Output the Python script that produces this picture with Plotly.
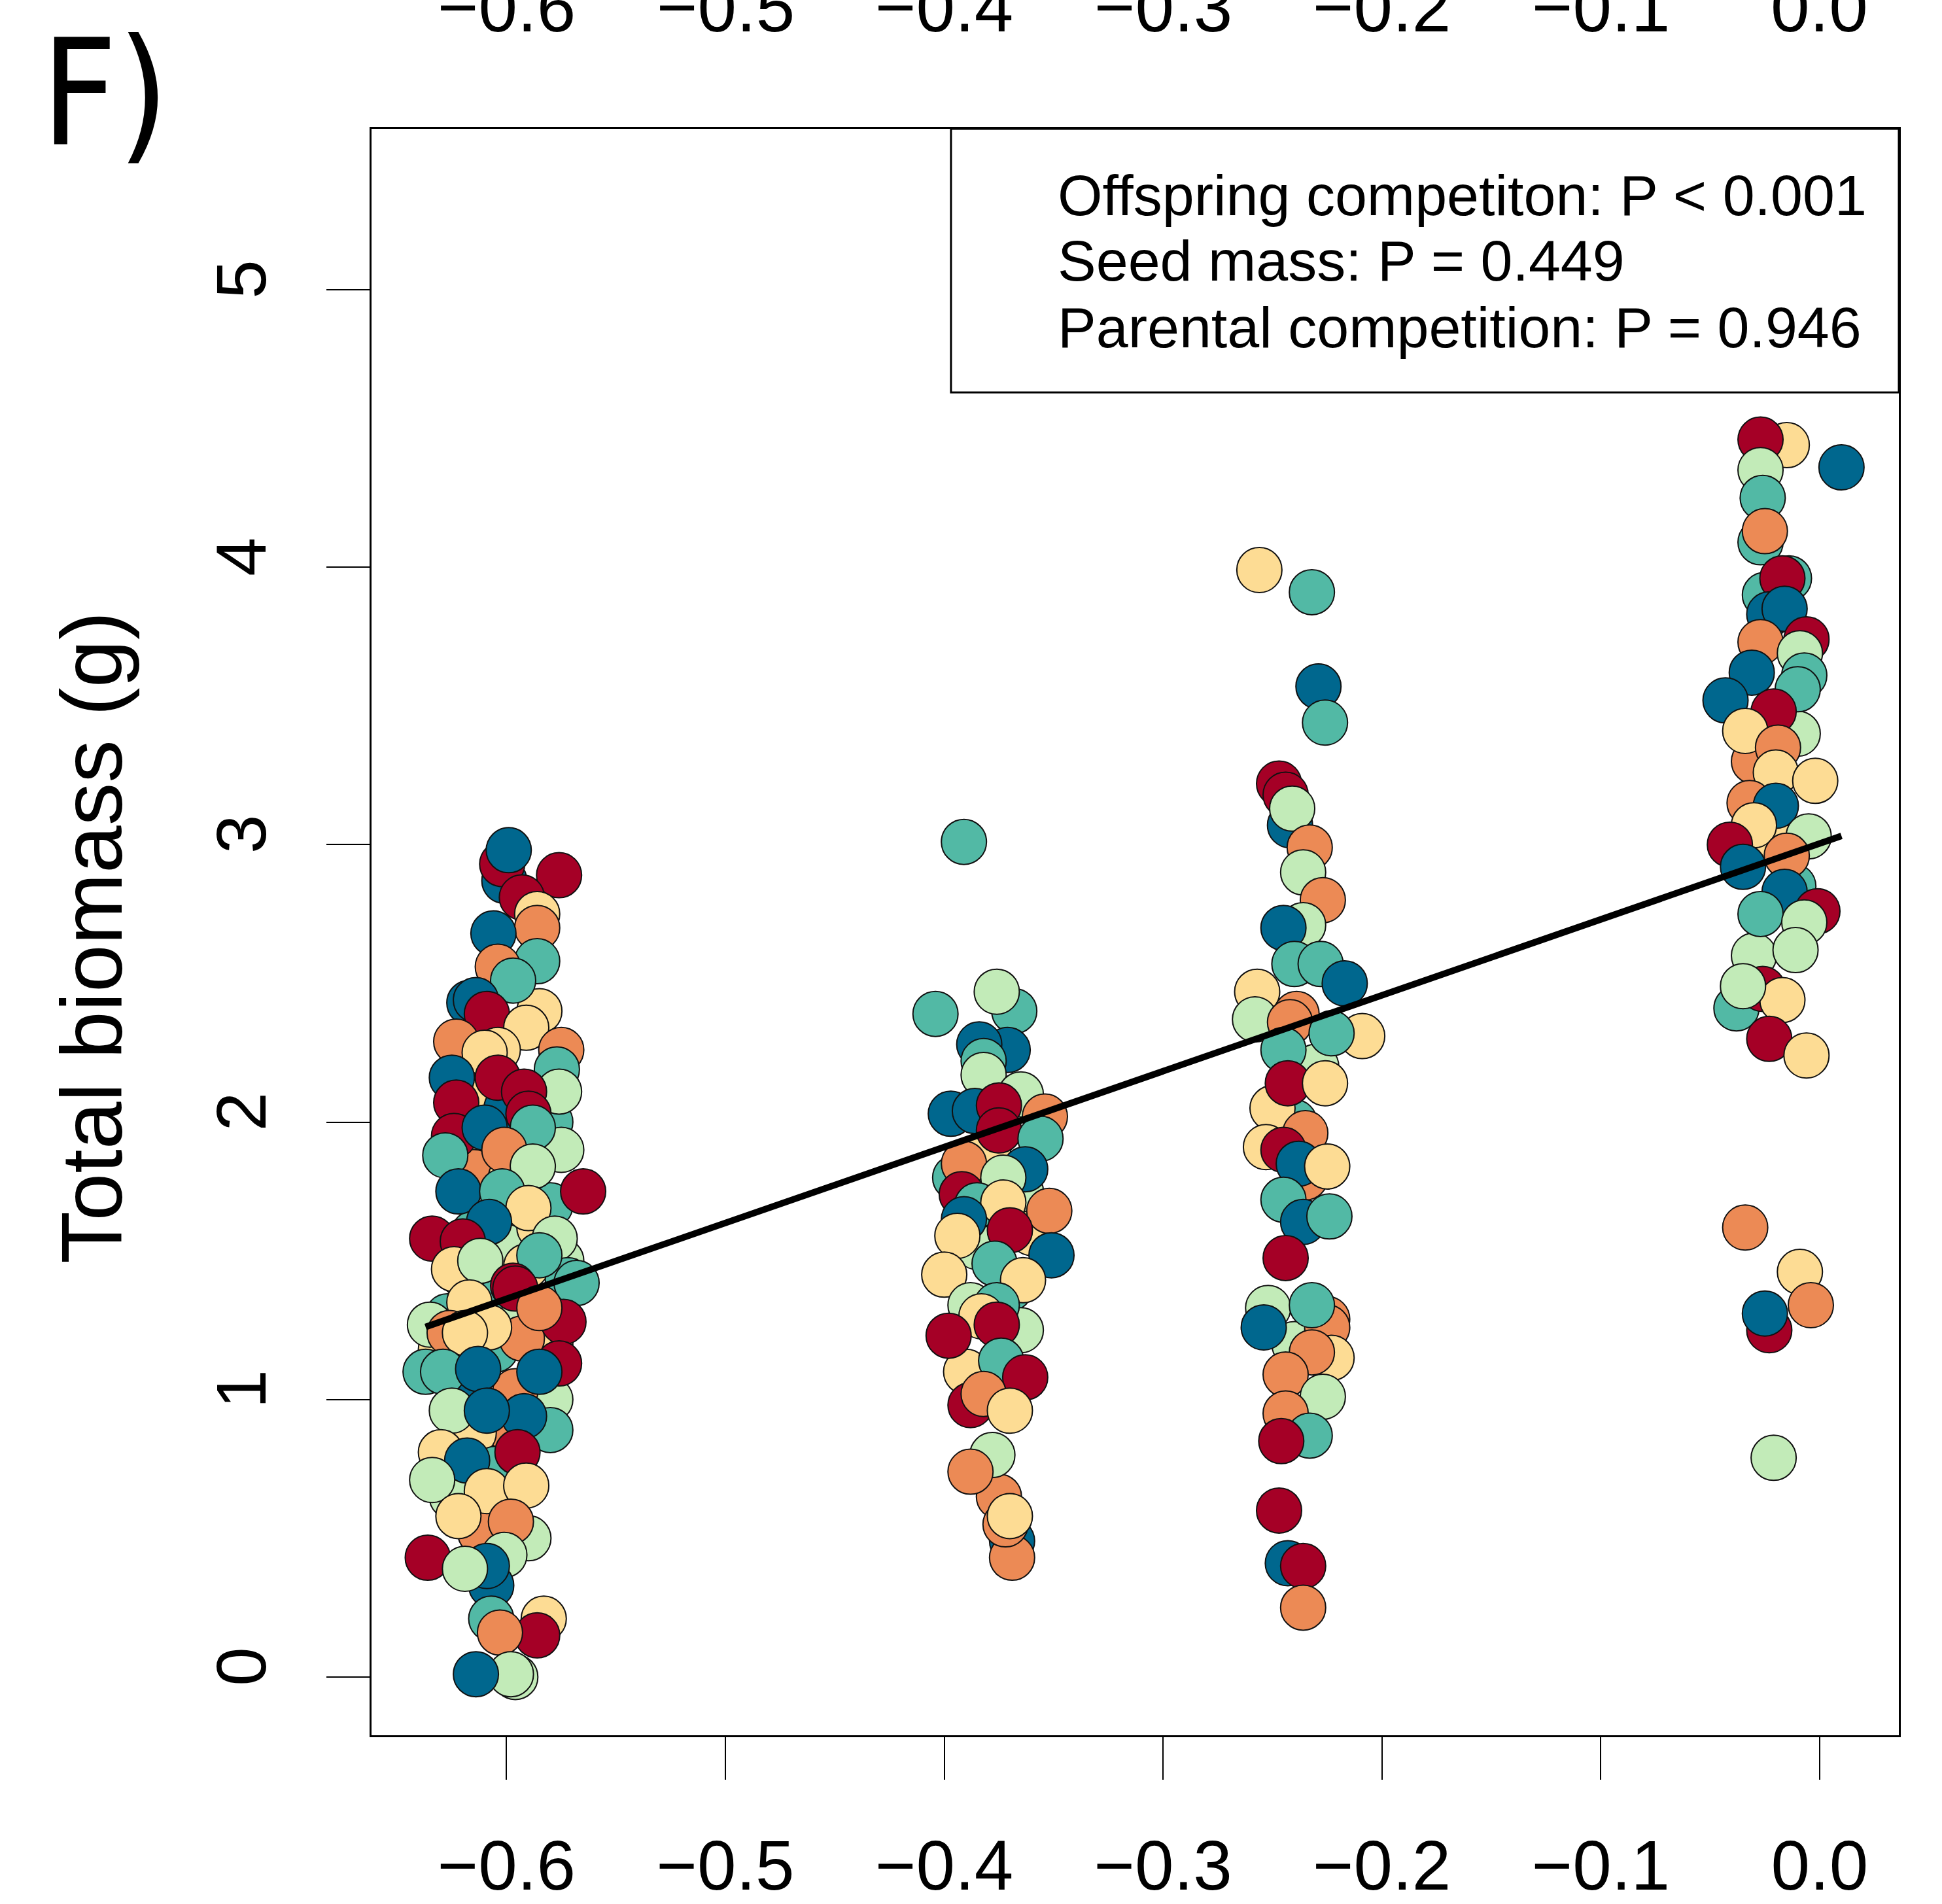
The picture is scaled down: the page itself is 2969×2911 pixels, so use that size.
import plotly.graph_objects as go
import numpy as np

# Colour of each group (0 dark red, 1 orange, 2 yellow, 3 light green, 4 teal, 5 dark blue)
palette = ["#A50026", "#EC8A55", "#FDDC94", "#C2EBB8", "#52B9A5", "#00678E"]

# (offspring competition, total biomass g, group)
# points lying underneath the crowded columns (drawn first)
under_points = [
    (-0.615, 1.60, 4), (-0.600, 1.55, 3), (-0.585, 1.62, 2), (-0.580, 1.70, 4), (-0.615, 1.82, 1),
    (-0.598, 1.80, 2), (-0.580, 2.00, 4), (-0.615, 2.10, 2), (-0.600, 2.05, 5), (-0.620, 2.22, 0),
    (-0.585, 2.40, 2), (-0.575, 1.90, 3), (-0.627, 1.30, 4), (-0.600, 1.30, 3), (-0.580, 1.20, 2),
    (-0.605, 1.18, 4), (-0.620, 1.05, 5), (-0.600, 0.90, 1), (-0.580, 1.00, 3), (-0.615, 0.88, 2),
    (-0.625, 0.65, 3), (-0.605, 0.75, 4), (-0.590, 0.50, 3), (-0.612, 0.52, 1), (-0.630, 1.18, 2),
    (-0.575, 1.50, 3), (-0.593, 1.22, 1), (-0.610, 1.38, 4),
    (-0.380, 1.90, 2), (-0.365, 1.75, 3), (-0.395, 1.80, 4), (-0.360, 1.60, 2), (-0.385, 1.55, 3),
    (-0.370, 1.40, 4), (-0.390, 1.10, 2), (-0.365, 1.25, 3), (-0.380, 2.10, 4), (-0.375, 0.65, 1),
    (-0.240, 2.00, 4), (-0.230, 2.20, 3), (-0.250, 2.05, 2), (-0.235, 1.80, 1), (-0.240, 1.20, 3),
    (-0.020, 3.00, 2), (-0.030, 3.30, 1), (-0.010, 3.40, 3), (-0.025, 3.90, 4), (-0.030, 2.60, 3),
    (-0.012, 2.85, 4),
]

cluster_06 = [
    (-0.601, 2.87, 5), (-0.602, 2.93, 0), (-0.599, 2.98, 5), (-0.576, 2.89, 0), (-0.593, 2.81, 0),
    (-0.586, 2.75, 2), (-0.586, 2.70, 1), (-0.606, 2.68, 5), (-0.586, 2.58, 4), (-0.604, 2.56, 1),
    (-0.597, 2.51, 4), (-0.617, 2.43, 5), (-0.614, 2.44, 5), (-0.609, 2.39, 0), (-0.591, 2.34, 2),
    (-0.623, 2.29, 1), (-0.604, 2.26, 2), (-0.610, 2.25, 2), (-0.575, 2.26, 1), (-0.577, 2.19, 4),
    (-0.576, 2.11, 3), (-0.625, 2.16, 5), (-0.604, 2.16, 0), (-0.592, 2.11, 0), (-0.590, 2.03, 0),
    (-0.623, 2.07, 0), (-0.624, 1.95, 0), (-0.610, 1.98, 5), (-0.588, 1.98, 4), (-0.628, 1.88, 4),
    (-0.601, 1.90, 1), (-0.588, 1.84, 3), (-0.565, 1.75, 0), (-0.622, 1.75, 5), (-0.602, 1.75, 4),
    (-0.590, 1.69, 2), (-0.608, 1.64, 5), (-0.578, 1.58, 3), (-0.634, 1.58, 0), (-0.620, 1.57, 0),
    (-0.620, 1.45, 4), (-0.624, 1.47, 2), (-0.591, 1.48, 2), (-0.572, 1.43, 4), (-0.612, 1.50, 3),
    (-0.585, 1.52, 4), (-0.597, 1.41, 0), (-0.568, 1.42, 4), (-0.617, 1.35, 2), (-0.596, 1.40, 0),
    (-0.574, 1.28, 0), (-0.585, 1.33, 1), (-0.635, 1.27, 3), (-0.626, 1.24, 1), (-0.608, 1.26, 2),
    (-0.619, 1.24, 2), (-0.637, 1.10, 4), (-0.629, 1.10, 4), (-0.596, 1.03, 1), (-0.613, 1.11, 5),
    (-0.576, 1.13, 0), (-0.585, 1.10, 5), (-0.625, 0.96, 3), (-0.580, 0.89, 4), (-0.592, 0.94, 5),
    (-0.609, 0.96, 5), (-0.630, 0.81, 2), (-0.595, 0.81, 0), (-0.618, 0.78, 5), (-0.634, 0.71, 3),
    (-0.609, 0.67, 2), (-0.591, 0.69, 2), (-0.598, 0.56, 1), (-0.622, 0.58, 2), (-0.601, 0.44, 3),
    (-0.636, 0.43, 0), (-0.607, 0.33, 5), (-0.609, 0.40, 5), (-0.619, 0.39, 3), (-0.607, 0.21, 4),
    (-0.583, 0.21, 2), (-0.586, 0.15, 0), (-0.603, 0.16, 1), (-0.596, 0.00, 3), (-0.598, 0.01, 3),
    (-0.614, 0.01, 5),
]

cluster_04 = [
    (-0.391, 3.01, 4), (-0.404, 2.39, 4), (-0.368, 2.40, 4), (-0.376, 2.47, 3), (-0.371, 2.26, 5),
    (-0.384, 2.28, 5), (-0.382, 2.22, 4), (-0.382, 2.17, 3), (-0.365, 2.10, 3), (-0.397, 2.03, 5),
    (-0.386, 2.04, 5), (-0.354, 2.02, 1), (-0.375, 2.06, 0), (-0.375, 1.97, 0), (-0.356, 1.94, 4),
    (-0.391, 1.85, 1), (-0.363, 1.83, 5), (-0.373, 1.80, 3), (-0.392, 1.74, 0), (-0.385, 1.70, 4),
    (-0.373, 1.71, 2), (-0.352, 1.68, 1), (-0.391, 1.65, 5), (-0.370, 1.61, 0), (-0.394, 1.59, 2),
    (-0.351, 1.52, 5), (-0.400, 1.45, 2), (-0.377, 1.49, 4), (-0.364, 1.43, 2), (-0.388, 1.34, 3),
    (-0.376, 1.34, 4), (-0.383, 1.30, 2), (-0.398, 1.23, 0), (-0.376, 1.27, 0), (-0.374, 1.14, 4),
    (-0.363, 1.08, 0), (-0.388, 0.98, 0), (-0.382, 1.02, 1), (-0.370, 0.96, 2), (-0.378, 0.80, 3),
    (-0.388, 0.74, 1), (-0.369, 0.49, 5), (-0.369, 0.43, 1), (-0.372, 0.55, 1), (-0.370, 0.58, 2),
]

cluster_02 = [
    (-0.256, 3.99, 2), (-0.232, 3.91, 4), (-0.229, 3.57, 5), (-0.226, 3.44, 4), (-0.247, 3.22, 0),
    (-0.244, 3.18, 0), (-0.242, 3.07, 5), (-0.241, 3.13, 3), (-0.233, 2.99, 1), (-0.236, 2.90, 3),
    (-0.227, 2.80, 1), (-0.236, 2.71, 3), (-0.245, 2.70, 5), (-0.240, 2.57, 4), (-0.228, 2.57, 4),
    (-0.217, 2.50, 5), (-0.257, 2.47, 2), (-0.258, 2.37, 3), (-0.239, 2.39, 1), (-0.242, 2.36, 1),
    (-0.209, 2.31, 2), (-0.223, 2.32, 4), (-0.245, 2.26, 4), (-0.243, 2.14, 0), (-0.226, 2.14, 2),
    (-0.253, 1.91, 2), (-0.235, 1.96, 1), (-0.245, 1.90, 0), (-0.238, 1.85, 5), (-0.225, 1.84, 2),
    (-0.245, 1.72, 4), (-0.236, 1.64, 5), (-0.224, 1.66, 4), (-0.244, 1.51, 0), (-0.252, 1.33, 3),
    (-0.254, 1.26, 5), (-0.225, 1.29, 1), (-0.225, 1.26, 1), (-0.232, 1.34, 4), (-0.223, 1.15, 2),
    (-0.232, 1.17, 1), (-0.244, 1.09, 1), (-0.227, 1.01, 3), (-0.244, 0.95, 1), (-0.233, 0.87, 4),
    (-0.246, 0.85, 0), (-0.247, 0.60, 0), (-0.243, 0.41, 5), (-0.236, 0.40, 0), (-0.236, 0.25, 1),
]

cluster_00 = [
    (-0.015, 4.44, 2), (-0.027, 4.46, 0), (0.010, 4.36, 5), (-0.027, 4.35, 3), (-0.026, 4.25, 4),
    (-0.027, 4.09, 4), (-0.025, 4.13, 1), (-0.014, 3.96, 4), (-0.017, 3.96, 0), (-0.023, 3.83, 5),
    (-0.016, 3.85, 5), (-0.006, 3.74, 0), (-0.027, 3.73, 1), (-0.009, 3.69, 3), (-0.031, 3.62, 5),
    (-0.007, 3.61, 4), (-0.043, 3.52, 5), (-0.010, 3.56, 4), (-0.021, 3.48, 0), (-0.034, 3.41, 2),
    (-0.019, 3.35, 1), (-0.020, 3.26, 2), (-0.002, 3.23, 2), (-0.032, 3.15, 1), (-0.020, 3.14, 5),
    (-0.030, 3.07, 2), (-0.005, 3.03, 3), (-0.041, 3.00, 0), (-0.035, 2.92, 5), (-0.015, 2.96, 1),
    (-0.016, 2.83, 5), (-0.001, 2.76, 0), (-0.027, 2.75, 4), (-0.007, 2.72, 3), (-0.011, 2.62, 3),
    (-0.038, 2.41, 4), (-0.026, 2.48, 0), (-0.017, 2.44, 2), (-0.035, 2.49, 3), (-0.023, 2.30, 0),
    (-0.006, 2.24, 2), (-0.034, 1.62, 1), (-0.009, 1.46, 2), (-0.004, 1.34, 1), (-0.023, 1.25, 0),
    (-0.025, 1.31, 5), (-0.021, 0.79, 3),
]

# Fitted regression line (intercept, slope)
fit_intercept = 3.004
fit_slope = 2.735

x_ticks = [-0.6, -0.5, -0.4, -0.3, -0.2, -0.1, 0.0]
x_tick_text = ["\u22120.6", "\u22120.5", "\u22120.4", "\u22120.3", "\u22120.2", "\u22120.1", "0.0"]
y_ticks = [0, 1, 2, 3, 4, 5]
stats_lines = [
    "Offspring competiton: P < 0.001",
    "Seed mass: P = 0.449",
    "Parental competition: P = 0.946",
]

points = under_points + cluster_06 + cluster_04 + cluster_02 + cluster_00
px = [p[0] for p in points]
py = [p[1] for p in points]
pc = [palette[p[2]] for p in points]

FONT = "Liberation Sans, Arial, sans-serif"

fig = go.Figure()
fig.add_trace(go.Scatter(
    x=px, y=py, mode="markers",
    marker=dict(size=69, color=pc, line=dict(color="#111111", width=2)),
    showlegend=False, hoverinfo="skip",
))
lx = np.array([min(px), max(px)])
fig.add_trace(go.Scatter(
    x=lx, y=fit_intercept + fit_slope * lx, mode="lines",
    line=dict(color="black", width=10), showlegend=False, hoverinfo="skip",
))

fig.update_layout(
    width=2969, height=2911,
    margin=dict(l=568, r=66, t=197, b=258, autoexpand=False),
    paper_bgcolor="white", plot_bgcolor="white",
    font=dict(family=FONT, color="black"),
    xaxis=dict(
        range=[-0.6617, 0.0362], tickvals=x_ticks, ticktext=x_tick_text,
        ticks="outside", ticklen=65, tickwidth=2, tickcolor="black",
        showline=True, linewidth=3, linecolor="black", mirror=True, automargin=False,
        showgrid=False, zeroline=False, tickfont=dict(size=107, family=FONT),
        ticklabelstandoff=40,
    ),
    yaxis=dict(
        range=[-0.21, 5.58], tickvals=y_ticks, tickangle=-90,
        ticks="outside", ticklen=66, tickwidth=2, tickcolor="black",
        showline=True, linewidth=3, linecolor="black", mirror=True, automargin=False,
        showgrid=False, zeroline=False, tickfont=dict(size=107, family=FONT),
        ticklabelstandoff=50,
    ),
)

annotations = []
# Partially visible tick labels of the panel above
for v, t in zip(x_ticks, x_tick_text):
    annotations.append(dict(x=v, xref="x", y=1.0505, yref="paper", text=t, showarrow=False,
                            xanchor="center", yanchor="bottom", font=dict(size=107, family=FONT)))
# Statistics box text
for i, (line, yy) in enumerate(zip(stats_lines, [0.9377, 0.8970, 0.8555])):
    annotations.append(dict(x=0.4484, xref="paper", y=yy, yref="paper", text=line, showarrow=False,
                            xanchor="left", yanchor="bottom", font=dict(size=88, family=FONT)))
# Axis title
annotations.append(dict(x=-0.1833, xref="paper", y=0.4967, yref="paper", text="Total biomass (g)",
                        textangle=-90, showarrow=False, xanchor="center", yanchor="middle",
                        font=dict(size=131, family=FONT)))
# Panel label
annotations.append(dict(x=-0.2170, xref="paper", y=0.9683, yref="paper", text="F)", showarrow=False,
                        xanchor="left", yanchor="bottom",
                        font=dict(size=225, family="DejaVu Sans Condensed, Liberation Sans Narrow, Liberation Sans, sans-serif")))
fig.update_layout(annotations=annotations)

fig.add_shape(type="rect", xref="paper", yref="paper", x0=0.3794, x1=1.0, y0=0.8359, y1=1.0,
              line=dict(color="black", width=3), fillcolor="rgba(0,0,0,0)")

fig.write_html("out.html")
